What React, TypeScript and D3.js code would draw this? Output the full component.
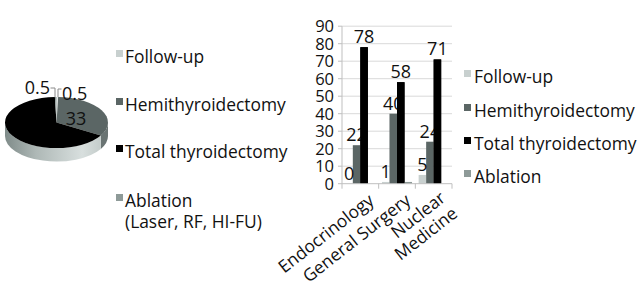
import React from "react";
import * as d3 from "d3";

// ---- data ----
const pieCategories = ["Follow-up", "Hemithyroidectomy", "Total thyroidectomy", "Ablation"];
const pieValues = [0.5, 33, 66, 0.5];
const pieLabels = ["0.5", "33", "", "0.5"];
const pieLegendExtra = ["", "", "", "(Laser, RF, HI-FU)"];

const barCategories = ["Endocrinology", "General Surgery", "Nuclear Medicine"];
const barCategoryLines = [["Endocrinology"], ["General Surgery"], ["Nuclear", "Medicine"]];
const seriesNames = ["Follow-up", "Hemithyroidectomy", "Total thyroidectomy", "Ablation"];
const followUp = [0, 1, 5];
const hemithyroidectomy = [22, 40, 24];
const totalThyroidectomy = [78, 58, 71];
const ablation = [0, 1, 0];
const seriesShowLabels = [true, true, true, false];
const yTicks = [0, 10, 20, 30, 40, 50, 60, 70, 80, 90];

const colors = ["#c8d0cf", "#5b6665", "#000000", "#8e9a98"];
const FONT = "'Open Sans', sans-serif";
const LEG = 17.4;

export default function App() {
  // ---------- pie ----------
  const cx = 56.5, cy = 122.5, rx = 51.5, ry = 25.5, depth = 13.5;
  const pieGen = d3.pie<number>().sort(null).value((d) => d);
  const arcs = pieGen(pieValues);
  const pt = (a: number, dy = 0) => [cx + rx * Math.sin(a), cy - ry * Math.cos(a) + dy];
  const topPath = (a0: number, a1: number) => {
    const p0 = pt(a0), p1 = pt(a1);
    const large = a1 - a0 > Math.PI ? 1 : 0;
    return `M${cx},${cy}L${p0[0]},${p0[1]}A${rx},${ry} 0 ${large} 1 ${p1[0]},${p1[1]}Z`;
  };
  const sidePath = (a0: number, a1: number) => {
    const s0 = Math.max(a0, Math.PI / 2), s1 = Math.min(a1, (3 * Math.PI) / 2);
    if (s1 <= s0) return null;
    const p0 = pt(s0), p1 = pt(s1), q1 = pt(s1, depth), q0 = pt(s0, depth);
    return `M${p0[0]},${p0[1]}A${rx},${ry} 0 0 1 ${p1[0]},${p1[1]}L${q1[0]},${q1[1]}A${rx},${ry} 0 0 0 ${q0[0]},${q0[1]}Z`;
  };
  const sideFills = ["#b8c0bf", "#6a7473", "url(#sideGrad)", "#9aa5a3"];

  // ---------- bars ----------
  const series = [followUp, hemithyroidectomy, totalThyroidectomy, ablation];
  const x0 = d3.scaleBand<number>().domain(d3.range(barCategories.length)).range([342, 452]).paddingInner(0.18).paddingOuter(0.09);
  const x1 = d3.scaleBand<number>().domain(d3.range(series.length)).range([0, x0.bandwidth()]);
  const y = d3.scaleLinear().domain([0, 90]).range([183.7, 26.2]);
  const step = x0.step();
  const boundaries = d3.range(barCategories.length + 1).map((i) => 342 + i * step);

  const pieLegendY = [63, 111, 158, 207];
  const barLegendY = [83, 117, 150, 183];

  return (
    <div style={{ position: "absolute", left: 0, top: 0 }}>
      <svg width={642} height={288} style={{ display: "block", background: "#fff" }} fontFamily={FONT}>
        <defs>
          <linearGradient id="sideGrad" gradientUnits="userSpaceOnUse" x1={cx - rx} x2={cx + rx} y1={0} y2={0}>
            <stop offset="0" stopColor="#7f8b89" />
            <stop offset="0.3" stopColor="#aeb8b6" />
            <stop offset="0.75" stopColor="#d8dfde" />
            <stop offset="1" stopColor="#bcc5c3" />
          </linearGradient>
        </defs>

        {/* pie sides */}
        {arcs.map((a, i) => {
          const d = sidePath(a.startAngle, a.endAngle);
          return d ? <path key={"s" + i} d={d} fill={sideFills[i]} /> : null;
        })}
        {/* pie tops */}
        {arcs.map((a, i) => (
          <path key={"t" + i} d={topPath(a.startAngle, a.endAngle)} fill={i === 0 ? "#e4e9e8" : colors[i]} />
        ))}
        {/* pie labels */}
        <text x={76} y={125} fontSize={18} textAnchor="middle" fill="#111">{pieLabels[1]}</text>
        <text x={50} y={94} fontSize={18} textAnchor="end" fill="#111">{pieLabels[3]}</text>
        <text x={62} y={100} fontSize={18} textAnchor="start" fill="#111">{pieLabels[0]}</text>
        <polyline points={`${50.5},88 ${55},88 ${55},${cy - ry}`} fill="none" stroke="#8a8a8a" strokeWidth={1} />
        <polyline points={`${61.5},89 ${58},89 ${58},${cy - ry}`} fill="none" stroke="#8a8a8a" strokeWidth={1} />

        {/* pie legend */}
        {pieCategories.map((c, i) => (
          <g key={"pl" + i}>
            <rect x={116} y={pieLegendY[i] - 13} width={7} height={7} fill={colors[i]} />
            <text x={125} y={pieLegendY[i]} fontSize={LEG} fill="#111">{c}</text>
            {pieLegendExtra[i] && (
              <text x={125} y={pieLegendY[i] + 21} fontSize={LEG} fill="#111">{pieLegendExtra[i]}</text>
            )}
          </g>
        ))}

        {/* bar chart grid */}
        {yTicks.map((t) => (
          <g key={"g" + t}>
            {t > 0 && <line x1={342} x2={452} y1={y(t)} y2={y(t)} stroke="#d9d9d9" strokeWidth={1} />}
            <line x1={338} x2={342} y1={y(t)} y2={y(t)} stroke="#bfbfbf" strokeWidth={1} />
            <text x={334} y={y(t)} dy="0.36em" fontSize={16.5} textAnchor="end" fill="#111">{t}</text>
          </g>
        ))}
        <line x1={342} x2={342} y1={y(90)} y2={y(0)} stroke="#bfbfbf" strokeWidth={1} />

        {/* bars */}
        {barCategories.map((c, ci) => (
          <g key={"c" + ci} transform={`translate(${x0(ci)},0)`}>
            {series.map((s, si) => (
              <rect key={"b" + si} x={x1(si)} y={y(s[ci])} width={x1.bandwidth()} height={y(0) - y(s[ci])} fill={colors[si]} />
            ))}
          </g>
        ))}
        {/* bar labels */}
        {barCategories.map((c, ci) => (
          <g key={"lbl" + ci} transform={`translate(${x0(ci)},0)`}>
            {series.map((s, si) =>
              seriesShowLabels[si] ? (
                <text key={"t" + si} x={(x1(si) as number) + x1.bandwidth() / 2} y={y(s[ci]) - 4} fontSize={18} textAnchor="middle" fill="#111">
                  {s[ci]}
                </text>
              ) : null
            )}
          </g>
        ))}
        {/* total bars drawn over labels, as in the reference */}
        {barCategories.map((c, ci) => (
          <rect key={"tb" + ci} x={(x0(ci) as number) + (x1(2) as number)} y={y(totalThyroidectomy[ci])} width={x1.bandwidth()} height={y(0) - y(totalThyroidectomy[ci])} fill={colors[2]} />
        ))}

        {/* x axis */}
        <line x1={342} x2={452} y1={y(0)} y2={y(0)} stroke="#bfbfbf" strokeWidth={1} />
        {boundaries.map((bx, i) => (
          <line key={"xt" + i} x1={bx} x2={bx} y1={y(0)} y2={y(0) + 5} stroke="#bfbfbf" strokeWidth={1} />
        ))}
        {barCategoryLines.map((lines, ci) => (
          <text key={"xl" + ci} transform={`translate(${(x0(ci) as number) + x0.bandwidth() / 2},${y(0)}) rotate(-38)`} fontSize={LEG} textAnchor="end" fill="#111">
            {lines.map((ln, li) => (
              <tspan key={li} x={0} y={(lines.length > 1 ? 21 : 24) + li * 19.5}>{ln}</tspan>
            ))}
          </text>
        ))}

        {/* bar legend */}
        {seriesNames.map((s, i) => (
          <g key={"bl" + i}>
            <rect x={464} y={barLegendY[i] - 13} width={7} height={7} fill={colors[i]} />
            <text x={474} y={barLegendY[i]} fontSize={LEG} fill="#111">{s}</text>
          </g>
        ))}
      </svg>
    </div>
  );
}
